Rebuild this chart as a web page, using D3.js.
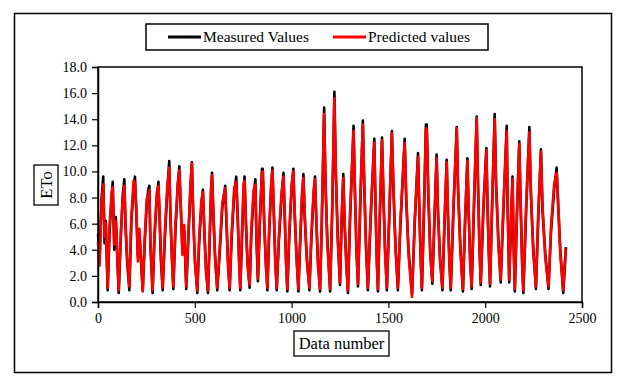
<!DOCTYPE html>
<html>
<head>
<meta charset="utf-8">
<script src="https://cdn.jsdelivr.net/npm/d3@7"></script>
<style>
  body { margin: 0; background: #fff; }
  text { font-family: "Liberation Serif", "Times New Roman", serif; fill: #000; }
</style>
</head>
<body>
<svg id="chart" width="630" height="388"></svg>
<script>
// data number of each vertex (peaks, shoulders, troughs)
var dataIndex = [0, 8, 18, 27, 34, 40, 50, 60, 70, 76, 84, 92, 107, 118, 128, 136, 142, 150, 162, 172,
  184, 191, 198, 206, 214, 231, 241, 252, 260, 265, 271, 282, 292, 304, 312, 318, 325, 334, 345, 358,
  368, 375, 382, 389, 400, 412, 420, 428, 436, 445, 456, 466, 478, 485, 492, 500, 513, 522, 534, 542,
  550, 558, 568, 576, 584, 589, 596, 604, 616, 628, 642, 657, 664, 672, 680, 690, 704, 714, 722, 728,
  735, 744, 752, 757, 764, 772, 783, 792, 804, 813, 818, 826, 836, 847, 851, 858, 866, 875, 884, 894,
  901, 908, 915, 923, 934, 948, 958, 965, 971, 978, 988, 1000, 1009, 1016, 1025, 1035, 1044, 1054, 1061, 1068,
  1078, 1092, 1102, 1114, 1121, 1128, 1136, 1147, 1156, 1168, 1175, 1184, 1199, 1210, 1221, 1228, 1238, 1250, 1258, 1267,
  1274, 1283, 1291, 1302, 1320, 1327, 1335, 1343, 1354, 1368, 1375, 1384, 1394, 1408, 1427, 1433, 1440, 1446, 1456, 1467,
  1474, 1482, 1492, 1504, 1518, 1526, 1536, 1549, 1562, 1584, 1592, 1604, 1622, 1636, 1653, 1660, 1667, 1673, 1684, 1694,
  1698, 1706, 1716, 1727, 1738, 1749, 1756, 1766, 1779, 1790, 1801, 1808, 1815, 1822, 1836, 1853, 1860, 1872, 1885, 1896,
  1908, 1915, 1922, 1930, 1942, 1956, 1963, 1970, 1977, 1990, 2006, 2012, 2019, 2025, 2036, 2049, 2056, 2068, 2080, 2094,
  2111, 2116, 2124, 2133, 2141, 2147, 2153, 2164, 2176, 2183, 2190, 2197, 2212, 2228, 2236, 2248, 2262, 2274, 2288, 2296,
  2310, 2327, 2340, 2356, 2369, 2376, 2388, 2403, 2410, 2417];

var measured = [5.2, 3.0, 7.8, 9.6, 4.5, 6.2, 0.9, 5.5, 8.0, 9.2, 4.0, 6.5, 0.7, 5.0, 8.2, 9.4, 5.8, 3.2, 0.9, 6.0,
  8.9, 9.6, 6.8, 3.5, 5.2, 0.9, 4.4, 7.6, 8.6, 8.9, 4.2, 0.7, 5.0, 8.0, 9.2, 6.5, 3.2, 0.9, 4.8, 8.5,
  10.8, 6.0, 3.5, 1.0, 5.5, 8.8, 10.4, 7.0, 4.0, 5.5, 1.0, 4.6, 8.8, 10.7, 6.4, 3.5, 0.7, 4.4, 7.4, 8.6,
  5.0, 2.6, 0.7, 4.2, 8.4, 9.9, 6.6, 3.8, 0.9, 3.6, 7.2, 8.9, 5.8, 3.0, 0.9, 4.8, 8.4, 9.6, 6.2, 3.6,
  0.9, 5.0, 8.6, 9.6, 6.0, 3.2, 1.1, 5.2, 8.2, 9.4, 5.0, 1.6, 6.0, 10.2, 10.2, 6.2, 3.4, 0.9, 5.2, 8.6,
  10.3, 6.8, 3.6, 0.9, 4.6, 8.0, 9.9, 6.2, 3.4, 0.8, 5.0, 8.6, 10.2, 6.6, 3.8, 0.8, 4.4, 8.0, 9.8, 6.4,
  3.6, 0.9, 4.8, 8.2, 9.6, 6.0, 3.2, 0.8, 6.0, 14.9, 9.0, 5.0, 0.8, 7.0, 16.1, 10.0, 5.2, 1.3, 6.0, 9.8,
  5.8, 3.0, 0.7, 6.4, 13.5, 8.4, 4.2, 1.2, 7.0, 13.9, 9.0, 4.6, 0.9, 6.2, 12.5, 7.6, 3.4, 0.8, 6.6, 12.6,
  8.2, 4.4, 0.9, 6.2, 13.1, 8.6, 4.6, 0.9, 5.8, 12.5, 7.8, 4.0, 0.6, 6.0, 11.4, 6.8, 3.4, 0.9, 7.0, 13.6,
  13.6, 8.2, 4.0, 1.4, 6.2, 11.3, 6.8, 3.6, 0.9, 6.0, 10.9, 6.4, 3.2, 0.9, 7.0, 13.4, 8.4, 4.2, 0.8, 6.0,
  11.0, 6.6, 3.4, 1.0, 7.2, 14.2, 8.8, 4.6, 1.3, 6.8, 11.8, 7.2, 3.8, 1.2, 7.4, 14.4, 9.0, 4.8, 1.5, 7.0,
  13.5, 7.2, 1.5, 5.8, 9.6, 4.2, 0.8, 6.6, 12.3, 7.4, 3.6, 0.7, 7.2, 13.4, 8.2, 4.2, 1.0, 6.4, 11.7, 7.0,
  3.8, 1.0, 5.4, 8.6, 10.3, 7.6, 4.0, 0.7, 2.4, 4.2];

var predicted = [4.6, 2.8, 7.4, 9.0, 5.0, 6.0, 1.1, 5.8, 8.3, 8.8, 4.4, 6.2, 0.9, 5.4, 8.0, 8.9, 6.2, 3.6, 1.2, 6.4,
  9.3, 9.1, 7.2, 3.1, 5.6, 0.8, 4.8, 7.9, 8.1, 8.6, 4.6, 0.9, 5.3, 8.4, 8.9, 6.9, 3.6, 1.1, 5.2, 8.9,
  10.3, 6.5, 3.2, 1.2, 5.9, 9.1, 10.1, 7.4, 3.6, 5.9, 1.2, 5.0, 9.2, 10.6, 6.8, 3.1, 0.9, 4.8, 7.8, 8.4,
  5.4, 2.2, 0.9, 4.6, 8.8, 9.7, 7.0, 3.4, 1.1, 4.0, 7.6, 8.7, 6.2, 2.6, 1.1, 5.2, 8.8, 9.2, 6.6, 3.2,
  1.1, 5.4, 9.0, 9.3, 6.4, 2.8, 1.3, 5.6, 8.6, 9.0, 5.4, 1.8, 6.4, 9.9, 10.0, 6.6, 3.0, 1.1, 5.6, 9.0,
  10.1, 7.2, 3.2, 1.1, 5.0, 8.4, 9.6, 6.6, 3.0, 1.0, 5.4, 9.0, 10.0, 7.0, 3.4, 1.0, 4.8, 8.4, 9.5, 6.8,
  3.2, 1.1, 5.2, 8.6, 9.4, 6.4, 2.8, 1.0, 6.4, 14.4, 9.5, 4.6, 1.0, 7.4, 15.6, 10.5, 4.8, 1.5, 6.4, 9.5,
  6.2, 2.6, 0.9, 6.8, 13.1, 8.8, 3.8, 1.4, 7.4, 13.6, 9.4, 4.2, 1.1, 6.6, 12.2, 8.0, 3.0, 1.0, 7.0, 12.4,
  8.6, 4.0, 1.1, 6.6, 12.9, 9.0, 4.2, 1.1, 6.2, 12.2, 8.2, 3.6, 0.4, 6.4, 11.1, 7.2, 3.0, 1.1, 7.4, 13.3,
  13.2, 8.6, 3.6, 1.6, 6.6, 11.0, 7.2, 3.2, 1.1, 6.4, 10.7, 6.8, 2.8, 1.1, 7.4, 13.3, 8.8, 3.8, 1.0, 6.4,
  10.8, 7.0, 3.0, 1.2, 7.6, 14.1, 9.2, 4.2, 1.5, 7.2, 11.6, 7.6, 3.4, 1.4, 7.8, 14.0, 9.4, 4.4, 1.7, 7.4,
  13.1, 7.6, 1.7, 6.2, 9.4, 4.6, 1.0, 7.0, 12.1, 7.8, 3.2, 0.9, 7.6, 13.0, 8.6, 3.8, 1.2, 6.8, 11.5, 7.4,
  3.4, 1.2, 5.8, 9.0, 9.9, 8.0, 3.6, 0.9, 2.8, 4.1];

var xTicks = [0, 500, 1000, 1500, 2000, 2500];
var yTicks = [0, 2, 4, 6, 8, 10, 12, 14, 16, 18];
var seriesNames = ["Measured Values", "Predicted values"];
var seriesColors = ["#000000", "#ff0000"];

var serif = "'Liberation Serif', 'Times New Roman', serif";
var svg = d3.select("#chart");

// outer frame
svg.append("rect")
  .attr("x", 14.5).attr("y", 13.5)
  .attr("width", 597).attr("height", 359)
  .attr("fill", "#fff").attr("stroke", "#000").attr("stroke-width", 1.5);

var x = d3.scaleLinear().domain([0, 2500]).range([98, 582]);
var y = d3.scaleLinear().domain([0, 18]).range([302, 67]);

// plot frame
svg.append("rect")
  .attr("x", 98).attr("y", 67)
  .attr("width", 484).attr("height", 235)
  .attr("fill", "none").attr("stroke", "#000").attr("stroke-width", 1.5);

var line = d3.line()
  .x(function(d, i) { return x(dataIndex[i]); })
  .y(function(d) { return y(d); });

svg.append("path")
  .datum(measured)
  .attr("d", line)
  .attr("fill", "none")
  .attr("stroke", seriesColors[0])
  .attr("stroke-width", 2.6)
  .attr("stroke-linejoin", "round");

svg.append("path")
  .datum(predicted)
  .attr("d", line)
  .attr("fill", "none")
  .attr("stroke", seriesColors[1])
  .attr("stroke-width", 2.6)
  .attr("stroke-linejoin", "round");

var xAxis = d3.axisBottom(x).tickValues(xTicks).tickSize(6).tickPadding(5)
  .tickFormat(d3.format("d"));
var yAxis = d3.axisLeft(y).tickValues(yTicks).tickSize(6).tickPadding(5)
  .tickFormat(d3.format(".1f"));

var gx = svg.append("g")
  .attr("transform", "translate(0,302)")
  .call(xAxis);
var gy = svg.append("g")
  .attr("transform", "translate(98,0)")
  .call(yAxis);

[gx, gy].forEach(function(g) {
  g.attr("font-family", serif).attr("font-size", 14);
  g.select(".domain").attr("stroke", "#000").attr("stroke-width", 1.5);
  g.selectAll(".tick line").attr("stroke", "#000").attr("stroke-width", 1.2);
  g.selectAll(".tick text")
    .attr("font-family", serif)
    .style("font-family", serif)
    .style("font-size", "14px");
});

// axis titles in boxes
var xt = svg.append("g");
xt.append("rect")
  .attr("x", 294).attr("y", 331).attr("width", 95).attr("height", 25)
  .attr("fill", "#fff").attr("stroke", "#000").attr("stroke-width", 1.3);
xt.append("text")
  .attr("x", 341.5).attr("y", 349)
  .attr("text-anchor", "middle")
  .style("font-size", "16.5px")
  .text("Data number");

var yt = svg.append("g");
yt.append("rect")
  .attr("x", 34).attr("y", 165).attr("width", 24).attr("height", 40)
  .attr("fill", "#fff").attr("stroke", "#000").attr("stroke-width", 1.3);
yt.append("text")
  .attr("transform", "translate(51.5,185) rotate(-90)")
  .attr("text-anchor", "middle")
  .style("font-size", "16.5px")
  .text("ETo");

// legend
var lg = svg.append("g");
lg.append("rect")
  .attr("x", 146).attr("y", 24).attr("width", 342).attr("height", 26)
  .attr("fill", "#fff").attr("stroke", "#000").attr("stroke-width", 1.5);

var legendX = [168, 333];
seriesNames.forEach(function(name, i) {
  lg.append("line")
    .attr("x1", legendX[i]).attr("x2", legendX[i] + 33)
    .attr("y1", 37).attr("y2", 37)
    .attr("stroke", seriesColors[i]).attr("stroke-width", 3);
  lg.append("text")
    .attr("x", legendX[i] + 35).attr("y", 42)
    .style("font-size", "15.5px")
    .text(name);
});
</script>
</body>
</html>
